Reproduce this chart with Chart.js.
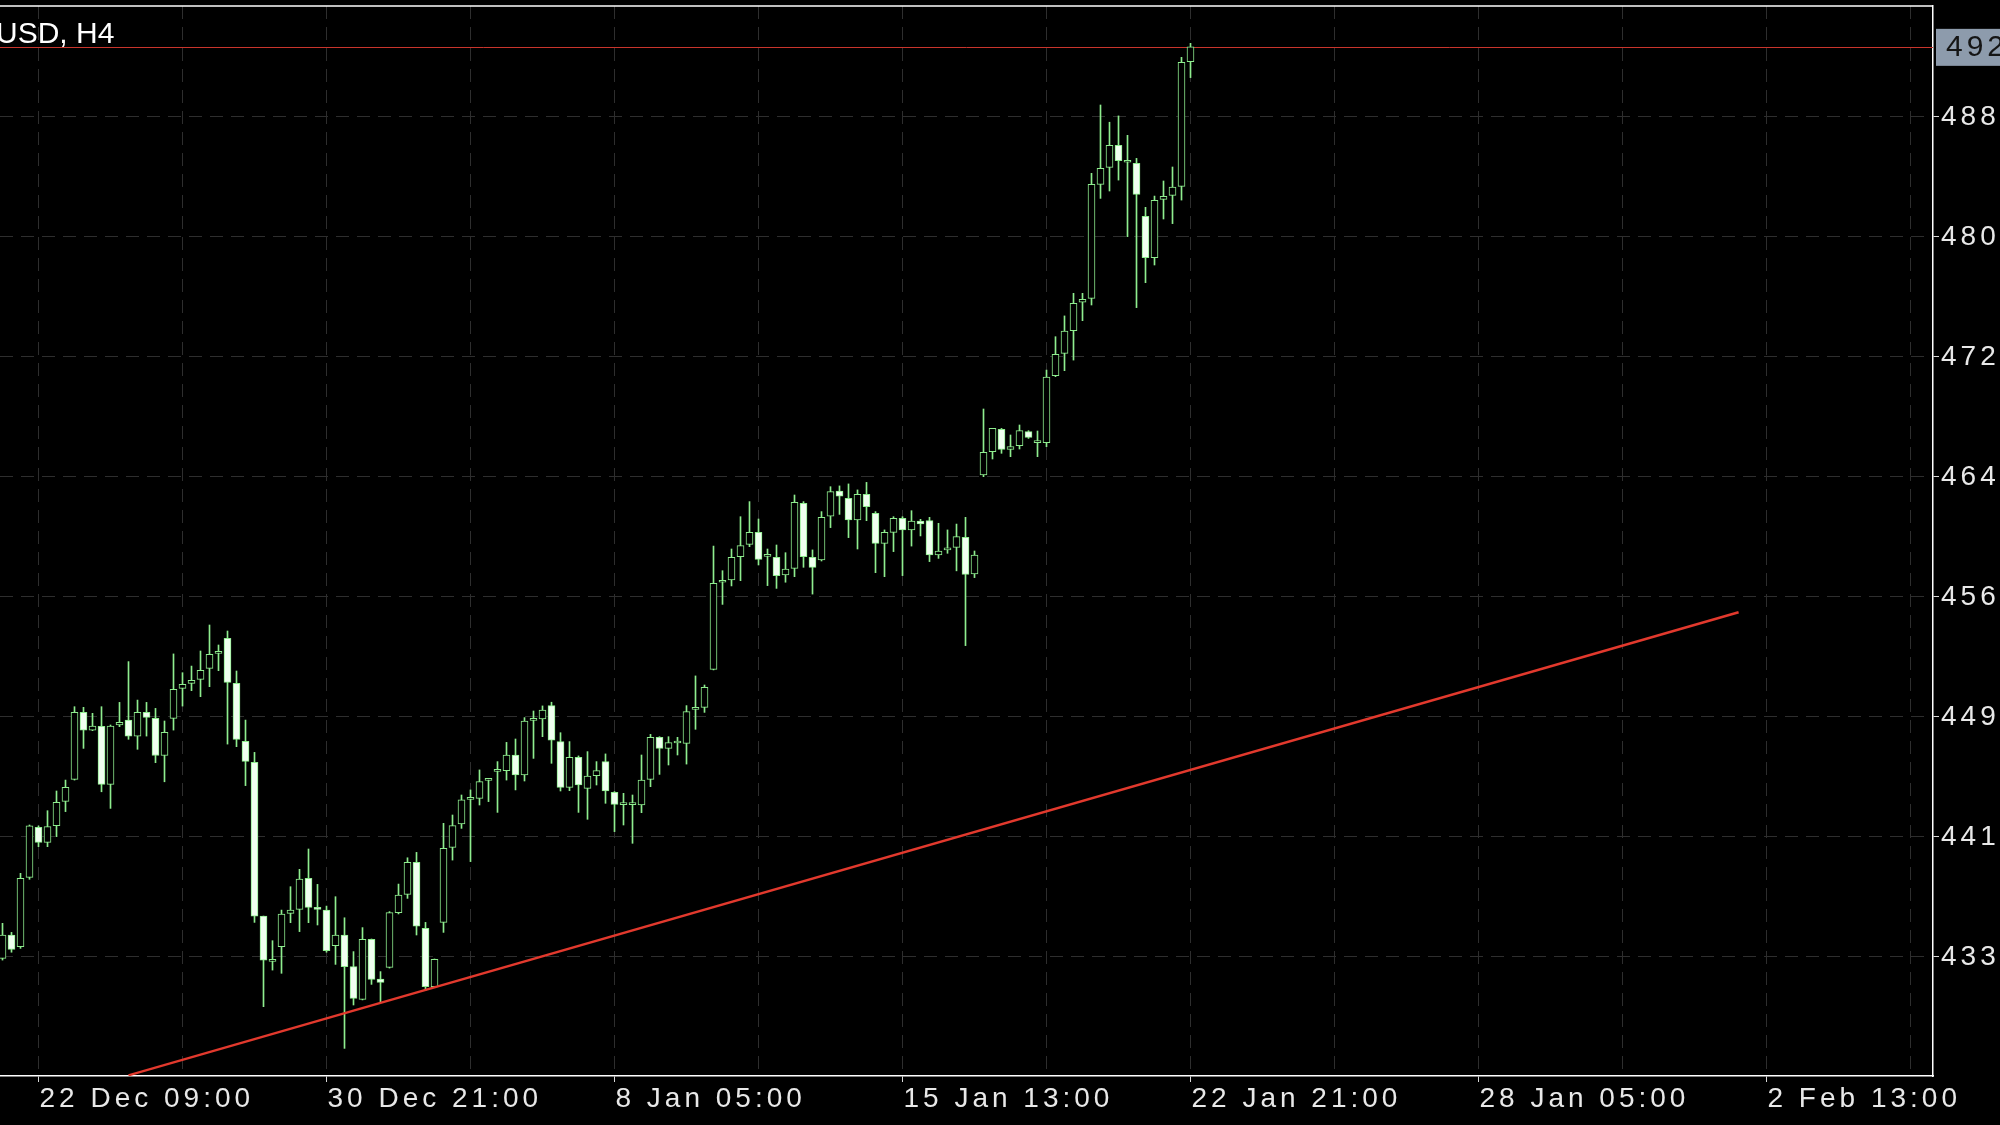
<!DOCTYPE html>
<html>
<head>
<meta charset="utf-8">
<title>XAUUSD, H4</title>
<script src="https://cdn.jsdelivr.net/npm/chart.js@4.4.1/dist/chart.umd.min.js"></script>
<style>
    html, body { margin: 0; padding: 0; background: #000; overflow: hidden; }
    #wrap { width: 2000px; height: 1125px; }
</style>
</head>
<body>
<div id="wrap"><canvas id="priceChart" width="2000" height="1125"></canvas></div>
<script>
const symbol = 'XAUUSD, H4';
const firstBar = -4; // bar number of the first candle, bar 0 = 22 Dec 09:00

const opens = [
    4334.1, 4349.3, 4341.7, 4386.8, 4419.3, 4409.5, 4420.4, 4436.2, 4450.5, 4494.0, 4482.5, 4484.9,
    4447.2, 4485.8, 4489.0, 4478.6, 4494.0, 4490.1, 4466.0, 4490.1, 4509.6, 4512.9, 4515.5, 4522.6,
    4532.4, 4542.1, 4512.9, 4475.2, 4461.5, 4361.6, 4332.2, 4341.7, 4363.4, 4366.0, 4386.1, 4366.4,
    4365.5, 4342.4, 4349.3, 4328.7, 4307.5, 4346.5, 4320.7, 4328.3, 4363.8, 4375.7, 4396.5, 4353.6,
    4315.7, 4357.5, 4406.3, 4421.5, 4437.5, 4438.1, 4449.8, 4455.7, 4456.1, 4466.3, 4453.3, 4488.8,
    4489.7, 4498.4, 4475.0, 4445.3, 4464.8, 4444.6, 4452.9, 4462.0, 4442.0, 4434.0, 4434.0, 4433.8,
    4450.5, 4477.8, 4470.6, 4474.1, 4473.9, 4496.0, 4497.3, 4522.0, 4578.6, 4580.1, 4595.2, 4603.2,
    4611.0, 4595.4, 4594.8, 4583.3, 4587.6, 4629.9, 4594.8, 4593.1, 4621.6, 4637.9, 4633.1, 4619.1,
    4635.7, 4623.4, 4603.9, 4611.0, 4620.1, 4612.6, 4618.4, 4618.6, 4596.3, 4599.6, 4601.3, 4607.8,
    4584.0, 4648.3, 4663.4, 4678.0, 4665.0, 4667.4, 4676.5, 4669.3, 4669.3, 4712.9, 4727.4, 4742.1,
    4760.6, 4763.1, 4837.2, 4848.3, 4862.6, 4851.6, 4850.9, 4816.4, 4789.6, 4827.5, 4830.1, 4835.9,
    4917.0
];
const highs = [
    4356.9, 4351.0, 4389.4, 4420.8, 4420.2, 4430.1, 4442.9, 4450.0, 4497.7, 4497.3, 4493.4, 4497.7,
    4485.8, 4500.5, 4527.0, 4502.0, 4500.5, 4496.6, 4488.4, 4532.0, 4519.8, 4524.1, 4533.9, 4550.8,
    4537.8, 4546.9, 4520.9, 4489.0, 4468.0, 4361.6, 4345.6, 4365.5, 4380.7, 4392.0, 4405.2, 4382.2,
    4368.1, 4374.2, 4360.5, 4338.5, 4354.1, 4346.7, 4325.5, 4364.5, 4382.4, 4399.5, 4403.0, 4357.5,
    4333.7, 4421.9, 4427.3, 4440.3, 4443.6, 4456.6, 4450.5, 4462.0, 4474.5, 4476.7, 4490.6, 4494.9,
    4498.2, 4500.6, 4480.8, 4475.0, 4465.7, 4468.5, 4462.0, 4467.0, 4442.5, 4441.4, 4440.3, 4466.3,
    4479.7, 4478.2, 4478.2, 4477.8, 4498.4, 4517.7, 4511.8, 4602.1, 4586.1, 4600.2, 4621.2, 4631.0,
    4619.7, 4600.2, 4602.8, 4597.8, 4635.3, 4631.0, 4599.6, 4624.5, 4640.7, 4641.2, 4642.5, 4638.6,
    4643.5, 4624.5, 4612.6, 4621.2, 4621.2, 4625.1, 4619.5, 4620.8, 4616.9, 4612.6, 4616.4, 4620.8,
    4598.9, 4691.2, 4678.6, 4678.6, 4674.3, 4680.8, 4677.1, 4676.9, 4716.5, 4738.2, 4751.7, 4766.4,
    4766.4, 4844.4, 4888.8, 4877.6, 4881.7, 4869.1, 4854.1, 4822.3, 4829.6, 4839.4, 4848.5, 4919.8,
    4928.9
];
const lows = [
    4333.0, 4338.1, 4340.6, 4385.5, 4406.7, 4406.7, 4413.2, 4429.5, 4450.0, 4470.6, 4482.1, 4442.4,
    4431.6, 4484.7, 4476.5, 4470.0, 4478.6, 4461.3, 4448.9, 4482.5, 4498.1, 4508.1, 4504.2, 4510.7,
    4521.1, 4473.4, 4471.7, 4446.4, 4357.5, 4302.7, 4326.5, 4324.4, 4357.3, 4351.5, 4357.3, 4355.8,
    4338.1, 4330.2, 4275.6, 4303.8, 4307.1, 4317.2, 4305.3, 4327.8, 4363.0, 4373.1, 4349.3, 4313.1,
    4315.5, 4351.0, 4398.0, 4418.6, 4397.0, 4433.8, 4436.0, 4429.0, 4450.0, 4443.6, 4449.4, 4464.1,
    4478.2, 4460.9, 4442.9, 4443.1, 4429.0, 4424.5, 4446.8, 4434.9, 4416.5, 4420.8, 4408.9, 4428.8,
    4445.7, 4453.7, 4459.8, 4466.3, 4460.4, 4483.0, 4494.0, 4521.6, 4564.2, 4576.2, 4579.6, 4601.7,
    4589.8, 4576.4, 4574.6, 4578.6, 4582.2, 4588.3, 4570.9, 4592.4, 4614.1, 4622.7, 4607.6, 4600.2,
    4618.6, 4584.8, 4582.2, 4598.5, 4582.9, 4602.1, 4608.7, 4592.0, 4594.1, 4597.4, 4586.0, 4537.4,
    4581.6, 4647.2, 4658.7, 4662.4, 4660.2, 4665.2, 4672.1, 4660.2, 4666.7, 4712.2, 4716.1, 4723.0,
    4748.6, 4758.8, 4828.1, 4832.9, 4840.0, 4803.2, 4757.1, 4773.3, 4784.8, 4814.7, 4811.7, 4827.0,
    4906.6
];
const closes = [
    4349.3, 4340.0, 4386.1, 4420.2, 4409.5, 4419.7, 4435.5, 4445.3, 4494.0, 4482.5, 4485.1, 4447.2,
    4485.1, 4487.5, 4478.6, 4494.0, 4490.8, 4466.0, 4481.0, 4509.0, 4512.2, 4514.8, 4521.3, 4531.7,
    4532.6, 4513.5, 4476.5, 4462.2, 4361.6, 4333.0, 4332.6, 4362.9, 4365.5, 4385.7, 4367.3, 4366.0,
    4339.1, 4349.3, 4328.7, 4308.1, 4346.5, 4320.5, 4318.5, 4363.8, 4375.3, 4396.5, 4355.1, 4315.7,
    4333.5, 4405.6, 4420.4, 4437.1, 4437.9, 4449.0, 4450.3, 4456.1, 4466.3, 4453.3, 4488.4, 4489.3,
    4495.5, 4476.0, 4445.3, 4464.8, 4446.8, 4452.6, 4456.1, 4442.9, 4434.2, 4434.5, 4434.5, 4450.0,
    4477.8, 4470.6, 4474.3, 4474.5, 4494.5, 4496.4, 4510.3, 4577.9, 4579.0, 4594.8, 4602.4, 4611.0,
    4593.5, 4595.9, 4582.9, 4587.2, 4630.6, 4595.2, 4588.3, 4620.8, 4637.5, 4634.6, 4619.1, 4635.7,
    4627.7, 4603.9, 4611.0, 4620.1, 4612.6, 4618.4, 4616.5, 4596.3, 4598.9, 4600.6, 4608.2, 4583.7,
    4596.3, 4663.1, 4678.6, 4665.0, 4666.7, 4677.1, 4672.8, 4669.7, 4712.0, 4726.7, 4741.9, 4759.9,
    4762.5, 4837.2, 4847.6, 4862.6, 4852.6, 4852.0, 4830.7, 4789.6, 4826.8, 4829.4, 4835.5, 4916.5,
    4926.6
];

const gridBars = [0, 16, 32, 48, 64, 80, 96, 112, 128, 144, 160, 176, 192, 208];
const labelBars = [0, 32, 64, 96, 128, 160, 192];
const xTickLabels = ['22 Dec 09:00', '30 Dec 21:00', '8 Jan 05:00', '15 Jan 13:00', '22 Jan 21:00', '28 Jan 05:00', '2 Feb 13:00'];
const yTickValues = [4335, 4413, 4491, 4569, 4647, 4725, 4803, 4881];

// trend line anchors (bar number, price)
const trendBars = [10, 188.9];
const trendPrices = [4258.1, 4559.1];

document.addEventListener('DOMContentLoaded', function() {
    const candleGreen = '#8eed8e';
    const textColor = '#e8e8e8';
    const gridColor = '#2e2e2e';
    const lastPrice = closes[closes.length - 1];

    Chart.defaults.font.family = "'Liberation Sans', Arial, sans-serif";

    const bodies = opens.map((o, k) => ({ x: firstBar + k, y: [o, closes[k]] }));
    const wicks = lows.map((l, k) => ({ x: firstBar + k, y: [l, highs[k]] }));
    const trend = trendBars.map((b, k) => ({ x: b, y: trendPrices[k] }));

    // MT-style extras: frame top, current price line + tag, symbol caption
    const terminalOverlay = {
        id: 'terminalOverlay',
        beforeDraw(chart) {
            chart.ctx.letterSpacing = '4px';
        },
        beforeDatasetsDraw(chart) {
            const { ctx, chartArea } = chart;
            const y = Math.round(chart.scales.y.getPixelForValue(lastPrice)) + 0.5;
            ctx.save();
            ctx.strokeStyle = '#c9352c';
            ctx.lineWidth = 1;
            ctx.beginPath();
            ctx.moveTo(chartArea.left, y);
            ctx.lineTo(chartArea.right, y);
            ctx.stroke();
            ctx.restore();
        },
        afterDraw(chart) {
            const { ctx, chartArea } = chart;
            const y = chart.scales.y.getPixelForValue(lastPrice);
            ctx.save();
            ctx.strokeStyle = '#ffffff';
            ctx.lineWidth = 1.5;
            ctx.beginPath();
            ctx.moveTo(chartArea.left, chartArea.top);
            ctx.lineTo(chartArea.right, chartArea.top);
            ctx.stroke();

            ctx.fillStyle = '#8d9bac';
            ctx.fillRect(chartArea.right + 3, y - 18, 80, 37);
            ctx.fillStyle = '#151515';
            ctx.font = "30px 'Liberation Sans', Arial, sans-serif";
            ctx.textBaseline = 'middle';
            ctx.textAlign = 'left';
            ctx.letterSpacing = '4px';
            ctx.fillText(lastPrice.toFixed(2), chartArea.right + 13, y + 1);

            ctx.letterSpacing = '0px';
            ctx.fillStyle = '#ffffff';
            ctx.font = "30px 'Liberation Sans', Arial, sans-serif";
            ctx.textBaseline = 'alphabetic';
            const shift = ctx.measureText('XAU').width + 4;
            ctx.fillText(symbol, -shift, 43);
            ctx.restore();
            ctx.letterSpacing = '0px';
        }
    };

    const ctx = document.getElementById('priceChart').getContext('2d');
    new Chart(ctx, {
        type: 'bar',
        data: {
            datasets: [
                {
                    label: 'Bodies',
                    data: bodies,
                    grouped: false,
                    barThickness: 7,
                    minBarLength: 2,
                    borderWidth: 1,
                    borderSkipped: false,
                    borderColor: candleGreen,
                    backgroundColor: bodies.map(b => (b.y[1] >= b.y[0] ? '#000000' : '#f0fff0'))
                },
                {
                    label: 'Wicks',
                    data: wicks,
                    grouped: false,
                    barThickness: 1,
                    borderWidth: 0,
                    backgroundColor: candleGreen
                },
                {
                    type: 'line',
                    label: 'Trend',
                    data: trend,
                    order: -1,
                    borderColor: '#e2392d',
                    borderWidth: 2.4,
                    pointRadius: 0,
                    tension: 0
                }
            ]
        },
        options: {
            responsive: false,
            animation: false,
            devicePixelRatio: 1,
            layout: { padding: { top: 6, left: 0, right: 0, bottom: 0 } },
            plugins: {
                legend: { display: false },
                tooltip: { enabled: false }
            },
            scales: {
                x: {
                    type: 'linear',
                    offset: false,
                    min: -38.5 / 9,
                    max: (1933 - 38.5) / 9,
                    afterBuildTicks: s => { s.ticks = gridBars.map(v => ({ value: v })); },
                    afterFit: s => { s.height = 49; s.paddingLeft = 0; s.paddingRight = 0; },
                    grid: {
                        offset: false,
                        color: gridColor,
                        lineWidth: 1,
                        tickLength: 6,
                        tickWidth: 1,
                        tickColor: c => (c.tick && labelBars.includes(c.tick.value) ? '#d8d8d8' : 'rgba(0,0,0,0)')
                    },
                    border: { color: '#ffffff', width: 1.5, dash: [13, 8] },
                    ticks: {
                        color: textColor,
                        font: { size: 28 },
                        padding: 0,
                        align: 'start',
                        labelOffset: 1,
                        maxRotation: 0,
                        minRotation: 0,
                        autoSkip: false,
                        callback: v => (labelBars.includes(v) ? xTickLabels[labelBars.indexOf(v)] : '')
                    }
                },
                y: {
                    position: 'right',
                    min: 4257.65,
                    max: 4953.15,
                    afterBuildTicks: s => { s.ticks = yTickValues.map(v => ({ value: v })); },
                    afterFit: s => { s.width = 67; s.paddingTop = 0; s.paddingBottom = 0; },
                    grid: {
                        color: gridColor,
                        lineWidth: 1,
                        tickLength: 6,
                        tickWidth: 1,
                        tickColor: '#d8d8d8'
                    },
                    border: { color: '#ffffff', width: 1.5, dash: [13, 8] },
                    ticks: {
                        z: 1,
                        color: textColor,
                        font: { size: 28 },
                        padding: 2,
                        callback: v => v.toFixed(2)
                    }
                }
            }
        },
        plugins: [terminalOverlay]
    });
});
</script>
</body>
</html>
